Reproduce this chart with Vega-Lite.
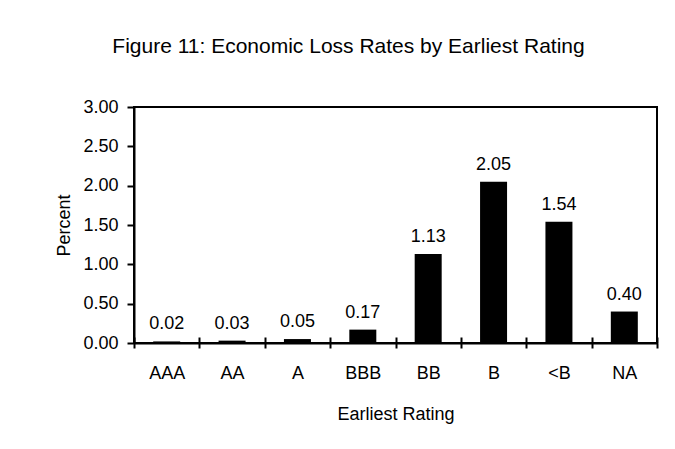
{
  "$schema": "https://vega.github.io/schema/vega-lite/v6.json",
  "autosize": {"type": "none"},
  "width": 523,
  "height": 236,
  "padding": {"left": 134, "top": 107, "right": 18, "bottom": 106},
  "background": "white",
  "title": {
    "text": "Figure 11: Economic Loss Rates by Earliest Rating",
    "font": "Liberation Sans",
    "fontSize": 21,
    "fontWeight": "normal",
    "color": "black",
    "anchor": "middle",
    "frame": "group",
    "dx": -47,
    "baseline": "alphabetic",
    "offset": 24
  },
  "data": {
    "values": [
      {"rating": "AAA", "pct": 0.02},
      {"rating": "AA", "pct": 0.03},
      {"rating": "A", "pct": 0.05},
      {"rating": "BBB", "pct": 0.17},
      {"rating": "BB", "pct": 1.13},
      {"rating": "B", "pct": 2.05},
      {"rating": "<B", "pct": 1.54},
      {"rating": "NA", "pct": 0.40}
    ]
  },
  "encoding": {
    "y": {
      "field": "pct",
      "type": "quantitative",
      "scale": {"domain": [0, 3], "nice": false},
      "axis": {
        "values": [0, 0.5, 1, 1.5, 2, 2.5, 3],
        "tickCount": 7,
        "format": ".2f",
        "labelOverlap": false,
        "tickSize": 7,
        "labelPadding": 9,
        "title": "Percent",
        "titlePadding": 9
      }
    }
  },
  "layer": [
    {
      "mark": {"type": "bar", "color": "black", "width": {"band": 0.413}},
      "encoding": {
        "x": {
          "field": "rating",
          "type": "nominal",
          "sort": ["AAA", "AA", "A", "BBB", "BB", "B", "<B", "NA"],
          "scale": {"paddingInner": 0, "paddingOuter": 0},
          "axis": {
            "orient": "bottom",
            "labelAngle": 0,
            "tickBand": "extent",
            "tickSize": 5,
            "labelPadding": 16,
            "title": "Earliest Rating",
            "titlePadding": 23
          }
        }
      }
    },
    {
      "mark": {"type": "text", "color": "black", "font": "Liberation Sans", "fontSize": 18, "baseline": "alphabetic", "dy": -12},
      "encoding": {
        "x": {
          "field": "rating",
          "type": "nominal",
          "sort": ["AAA", "AA", "A", "BBB", "BB", "B", "<B", "NA"],
          "axis": {
            "orient": "bottom",
            "tickBand": "extent",
            "tickSize": -6,
            "labels": false,
            "domain": false,
            "title": null
          }
        },
        "text": {"field": "pct", "type": "quantitative", "format": ".2f"}
      }
    }
  ],
  "resolve": {"axis": {"x": "independent"}},
  "config": {
    "font": "Liberation Sans",
    "view": {"stroke": "black", "strokeWidth": 2},
    "axis": {
      "grid": false,
      "domainColor": "black",
      "domainWidth": 2,
      "tickColor": "black",
      "tickWidth": 2,
      "labelColor": "black",
      "titleColor": "black",
      "labelFont": "Liberation Sans",
      "titleFont": "Liberation Sans",
      "labelFontSize": 18,
      "titleFontSize": 18,
      "titleFontWeight": "normal"
    }
  }
}
